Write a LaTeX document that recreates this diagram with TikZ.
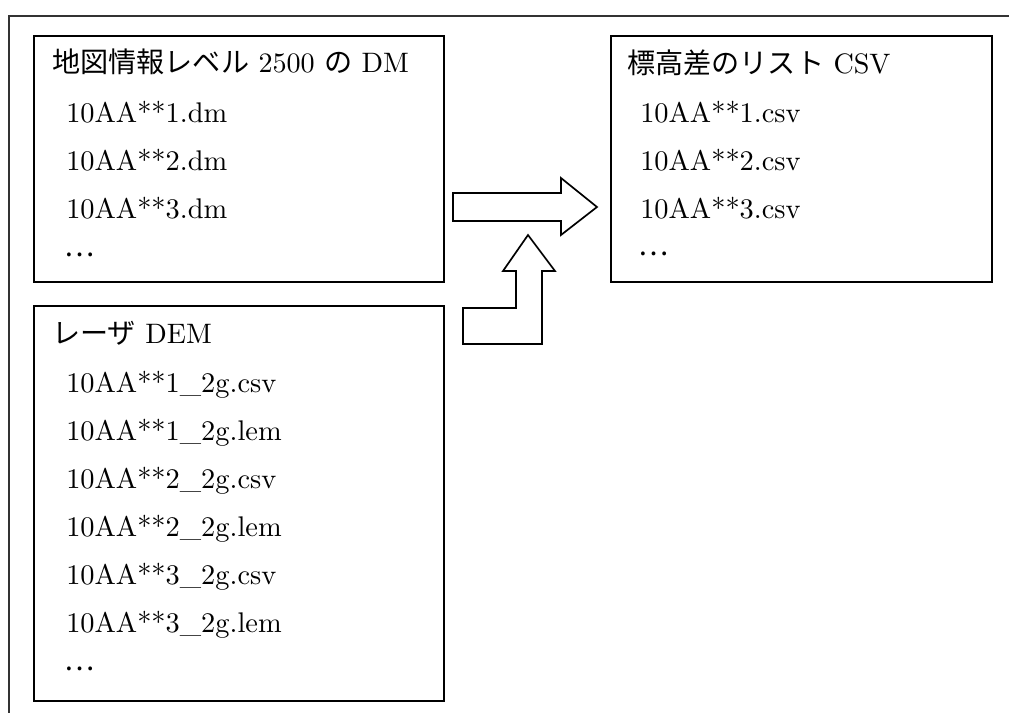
\documentclass[tikz,border=0pt]{standalone}
\usepackage{fontspec}
\setmainfont{lmroman10-regular.otf}
\newfontfamily\jp{Noto Sans CJK JP}
\usetikzlibrary{positioning}

\tikzset{
  filebox/.style={draw, line width=1.4pt, anchor=north west, inner sep=0pt},
  title/.style={anchor=base west, inner sep=0pt, font=\fontsize{20}{24}\selectfont},
  item/.style={anchor=base west, inner sep=0pt, font=\fontsize{20.2}{24}\selectfont},
  blockarrow/.style={draw, line width=1.2pt, fill=white},
}

\begin{document}
\begin{tikzpicture}[x=0.025cm,y=-0.025cm]
\useasboundingbox (0,0) rectangle (1009,713);

% outer frame, only top and left edge
\draw[line width=1.1pt, black!80] (1009,16) -- (9,16) -- (9,713);

% DM files
\node[filebox, minimum width=10.25cm, minimum height=6.15cm] (dm) at (33,35) {};
\node[title] (dmtitle) at (52,72) {{\jp 地図情報レベル} 2500 {\jp の} DM};
\foreach \i in {1,2,3}
{
\node[item] (dm\i) at (66,{74+48*\i}) {10AA**\i.dm};
}
\node[item] (dmdots) at (64,256) {\jp …};

% laser DEM files
\node[filebox, minimum width=10.25cm, minimum height=9.875cm] (dem) at (33,305) {};
\node[title] (demtitle) at (52,343) {{\jp レーザ} DEM};
\foreach \i/\ext [count=\k] in {1/csv,1/lem,2/csv,2/lem,3/csv,3/lem}
{
\node[item] (dem\k) at (66,{344+48*\k}) {10AA**\i\_2g.\ext};
}
\node[item] (demdots) at (64,670) {\jp …};

% height difference lists
\node[filebox, minimum width=9.525cm, minimum height=6.15cm] (diff) at (610,35) {};
\node[title] (difftitle) at (627,73) {{\jp 標高差のリスト} CSV};
\foreach \i in {1,2,3}
{
\node[item] (diff\i) at (640,{74+48*\i}) {10AA**\i.csv};
}
\node[item] (diffdots) at (638,255) {\jp …};

% block arrows
\draw[blockarrow] (453,193) -- (561,193) -- (561,178) -- (597,207) -- (561,235)
  -- (561,221) -- (453,221) -- cycle;
\draw[blockarrow] (463,308) -- (516,308) -- (516,271) -- (503,271) -- (528,235)
  -- (555,271) -- (542,271) -- (542,344) -- (463,344) -- cycle;

\end{tikzpicture}
\end{document}
